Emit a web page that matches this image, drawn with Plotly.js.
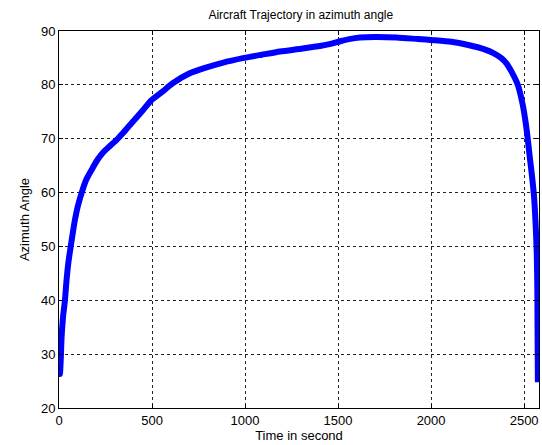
<!DOCTYPE html>
<html>
<head>
<meta charset="utf-8">
<script src="https://cdn.plot.ly/plotly-3.0.1.min.js"></script>
<style>html,body{margin:0;padding:0;background:#fff;}#chart{width:542px;height:445px;}</style>
</head>
<body>
<div id="chart"></div>
<script>
var timeSec = [0, 5, 10, 14, 22, 32, 40, 50, 63, 75, 86, 100, 122, 145, 175, 205, 238, 275, 310, 345, 380, 451, 495, 558, 611, 700, 780, 878, 995, 1090, 1188, 1300, 1403, 1460, 1511, 1560, 1618, 1700, 1815, 1930, 2012, 2108, 2200, 2287, 2335, 2376, 2405, 2430, 2465, 2492, 2510, 2519, 2531, 2541, 2554, 2562, 2568, 2571, 2572, 2573, 2574];
var azimuth = [29, 26.3, 29.5, 33.2, 37, 40, 43.5, 46.9, 50, 52.7, 55, 57.3, 60, 62.3, 64.2, 66, 67.5, 68.7, 69.8, 71.1, 72.5, 75.3, 77.1, 78.8, 80.3, 82.1, 83.1, 84.1, 85.0, 85.6, 86.2, 86.7, 87.2, 87.6, 88.1, 88.5, 88.8, 88.9, 88.8, 88.5, 88.3, 88.0, 87.4, 86.6, 85.9, 85.0, 84.0, 82.6, 80.1, 76.4, 72.6, 70.1, 66.4, 63.5, 59, 54, 48.7, 42, 36.3, 30, 24.8];

var data = [{
  x: timeSec,
  y: azimuth,
  type: 'scatter',
  mode: 'lines',
  line: {color: '#0000ff', width: 6, shape: 'spline', smoothing: 0.6},
  hoverinfo: 'skip'
}];

var axisCommon = {
  showline: true,
  linecolor: '#000',
  linewidth: 1,
  mirror: 'ticks',
  ticks: 'inside',
  ticklen: 4,
  tickcolor: '#000',
  showgrid: true,
  gridcolor: '#222',
  griddash: '3px,3px',
  gridwidth: 1,
  zeroline: false,
  tickfont: {family: 'Liberation Sans, Arial, sans-serif', size: 13, color: '#000'}
};

var layout = {
  width: 542,
  height: 445,
  margin: {l: 59, r: 3, t: 31, b: 37},
  paper_bgcolor: '#fff',
  plot_bgcolor: '#fff',
  showlegend: false,
  title: {
    text: 'Aircraft Trajectory in azimuth angle',
    font: {family: 'Liberation Sans, Arial, sans-serif', size: 12, color: '#000'},
    x: 0.555, xanchor: 'center', y: 0.967, yanchor: 'middle'
  },
  xaxis: Object.assign({}, axisCommon, {
    range: [0, 2580],
    tick0: 0, dtick: 500,
    title: {text: 'Time in second', font: {family: 'Liberation Sans, Arial, sans-serif', size: 13, color: '#000'}, standoff: 2}
  }),
  yaxis: Object.assign({}, axisCommon, {
    range: [20, 90],
    tick0: 20, dtick: 10,
    title: {text: 'Azimuth Angle', font: {family: 'Liberation Sans, Arial, sans-serif', size: 13, color: '#000'}, standoff: 8}
  })
};

Plotly.newPlot('chart', data, layout, {staticPlot: true, displayModeBar: false});
</script>
</body>
</html>
